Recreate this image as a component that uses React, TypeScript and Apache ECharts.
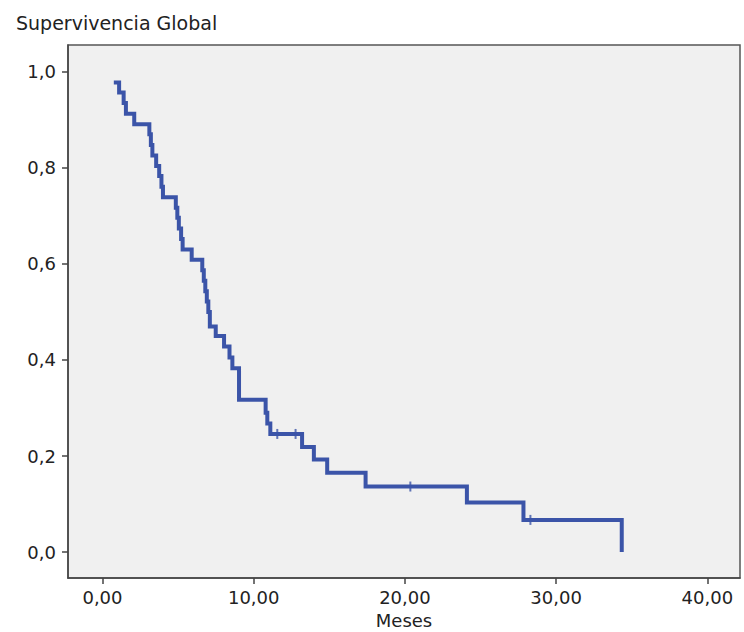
import React, { useEffect, useRef } from "react";
import * as echarts from "echarts";

// Kaplan-Meier step data: at each time the survival drops to the given value
const eventTimes = [
  0.75, 1.1, 1.4, 1.55, 2.1, 3.1, 3.2, 3.3, 3.55, 3.75, 3.9, 4.0,
  4.85, 4.95, 5.05, 5.2, 5.3, 5.9, 6.6, 6.7, 6.8, 6.9, 7.0, 7.1,
  7.49, 8.04, 8.4, 8.59, 9.03, 10.79, 10.9, 11.1, 13.2, 13.98, 14.86,
  17.4, 24.1, 27.84, 34.34,
];
const survival = [
  0.978, 0.957, 0.935, 0.913, 0.891, 0.870, 0.848, 0.826, 0.804, 0.783, 0.761, 0.739,
  0.717, 0.696, 0.674, 0.652, 0.630, 0.609, 0.587, 0.565, 0.543, 0.522, 0.500, 0.470,
  0.450, 0.428, 0.405, 0.383, 0.317, 0.290, 0.268, 0.246, 0.219, 0.193, 0.165,
  0.1365, 0.103, 0.067, 0.0,
];
const censorTimes = [11.56, 12.77, 20.36, 28.3];
const censorValues = [0.246, 0.246, 0.1365, 0.067];

const xTicks = [0, 10, 20, 30, 40];
const yTicks = [0, 0.2, 0.4, 0.6, 0.8, 1.0];

const titleText = "Supervivencia Global";
const xAxisName = "Meses";

const FONT = "DejaVu Sans";
const LINE_COLOR = "#3b54a8";

export default function App() {
  const ref = useRef<HTMLDivElement>(null);

  useEffect(() => {
    if (!ref.current) return;
    const chart = echarts.init(ref.current, null, { renderer: "svg" });
    const lineData = eventTimes.map((t, i) => [t, survival[i]]);
    const censorData = censorTimes.map((t, i) => [t, censorValues[i]]);

    chart.setOption({
      animation: false,
      backgroundColor: "#ffffff",
      title: {
        text: titleText,
        left: 11,
        top: 8,
        textStyle: { fontFamily: FONT, fontSize: 19, fontWeight: "normal", color: "#222" },
      },
      grid: {
        left: 68,
        right: 4,
        top: 45,
        bottom: 54,
        outerBoundsMode: "none",
        containLabel: false,
        show: true,
        backgroundColor: "#f0f0f0",
        borderColor: "#555",
        borderWidth: 1.5,
      },
      xAxis: {
        type: "value",
        min: -2.28,
        max: 42.16,
        name: xAxisName,
        nameLocation: "middle",
        nameGap: 33,
        nameTextStyle: { fontFamily: FONT, fontSize: 18, color: "#222" },
        axisLine: { show: true, onZero: false, lineStyle: { color: "#444", width: 1.5 } },
        axisTick: {
          show: true,
          length: 6,
          customValues: xTicks,
          lineStyle: { color: "#444", width: 1.5 },
        },
        axisLabel: {
          customValues: xTicks,
          margin: 10,
          fontFamily: FONT,
          fontSize: 18,
          color: "#222",
          formatter: (v: number) => v.toFixed(2).replace(".", ","),
        },
        splitLine: { show: false },
      },
      yAxis: {
        type: "value",
        min: -0.054,
        max: 1.056,
        axisLine: { show: true, onZero: false, lineStyle: { color: "#444", width: 1.5 } },
        axisTick: {
          show: true,
          length: 6,
          customValues: yTicks,
          lineStyle: { color: "#444", width: 1.5 },
        },
        axisLabel: {
          customValues: yTicks,
          margin: 12,
          fontFamily: FONT,
          fontSize: 18,
          color: "#222",
          formatter: (v: number) => v.toFixed(1).replace(".", ","),
        },
        splitLine: { show: false },
      },
      series: [
        {
          type: "line",
          step: "end",
          data: lineData,
          showSymbol: false,
          symbol: "none",
          lineStyle: { color: LINE_COLOR, width: 4, join: "miter", cap: "butt" },
          z: 3,
        },
        {
          type: "scatter",
          data: censorData,
          symbol: "rect",
          symbolSize: [2, 10],
          itemStyle: { color: LINE_COLOR },
          z: 4,
        },
      ],
    });
    return () => chart.dispose();
  }, []);

  return (
    <div
      ref={ref}
      style={{ position: "fixed", left: 0, top: 0, width: 744, height: 632 }}
    />
  );
}
